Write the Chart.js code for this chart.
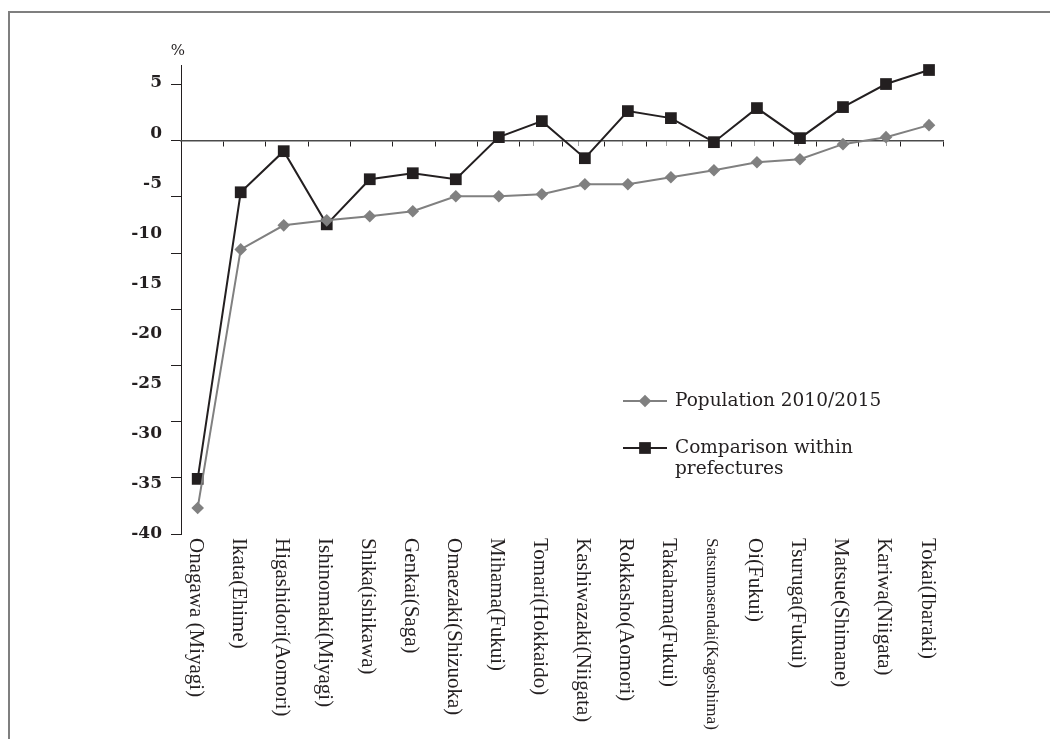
<!DOCTYPE html>
<html>
<head>
<meta charset="utf-8">
<script src="https://cdn.jsdelivr.net/npm/chart.js@4.4.1/dist/chart.umd.min.js"></script>
<style>
  html, body { margin: 0; padding: 0; background: #ffffff; }
  #wrap { position: relative; width: 1050px; height: 739px; overflow: hidden; }
  #wrap canvas { position: absolute; left: 0; top: 0; }
  #frame { position: absolute; left: 8px; top: 11px; right: 0; bottom: 0;
           border-top: 2px solid #7f7f7f; border-left: 2px solid #7f7f7f; pointer-events: none; }
</style>
</head>
<body>
<div id="wrap">
  <canvas id="chart" width="1050" height="739"></canvas>
  <div id="frame"></div>
</div>
<script>
// Municipalities hosting nuclear plants, ordered by population change
const categories = [
  'Onagawa (Miyagi)', 'Ikata(Ehime)', 'Higashidori(Aomori)', 'Ishinomaki(Miyagi)',
  'Shika(ishikawa)', 'Genkai(Saga)', 'Omaezaki(Shizuoka)', 'Mihama(Fukui)',
  'Tomari(Hokkaido)', 'Kashiwazaki(Niigata)', 'Rokkasho(Aomori)', 'Takahama(Fukui)',
  'Satsumasendai(Kagoshima)', 'Oi(Fukui)', 'Tsuruga(Fukui)', 'Matsue(Shimane)',
  'Kariwa(Niigata)', 'Tokai(Ibaraki)'
];

// Population change 2010/2015, %
const population = [
  -37.4, -11.6, -9.2, -8.7, -8.3, -7.8, -6.3, -6.3, -6.1,
  -5.1, -5.1, -4.4, -3.7, -2.9, -2.6, -1.1, -0.4, 0.8
];

// Change relative to the prefecture as a whole, %
const comparison = [
  -34.5, -5.9, -1.8, -9.1, -4.6, -4.0, -4.6, -0.4, 1.2,
  -2.5, 2.2, 1.5, -0.9, 2.5, -0.5, 2.6, 4.9, 6.3
];

const seriesNames = ['Population 2010/2015', 'Comparison within prefectures'];
const legendLines = [['Population 2010/2015'], ['Comparison within', 'prefectures']];

// Value axis labels
const yTickLabels = [5, 0, -5, -10, -15, -20, -25, -30, -35, -40];
// Tick marks along the vertical axis line
const yTickMarks = [5, 0, -5, -10, -15, -20, -25, -30, -35];
// Tick marks along the horizontal axis line
const xTickMarks = [0, 1, 2, 3, 4, 5, 6, 7, 8, 9, 10, 11, 12, 13, 14, 15, 16, 17, 18];
const xTickMarksLight = [8, 9, 10, 11, 12, 13, 14, 15, 16];

const INK = '#231f20';
const GREY = '#808080';

// Vertical category names, reading top to bottom under the axis
const categoryLabels = {
  id: 'categoryLabels',
  afterDraw(chart, args, o) {
    const ctx = chart.ctx;
    const xs = chart.scales.x;
    ctx.save();
    ctx.fillStyle = INK;
    categories.forEach((name, i) => {
      let size = o.size;
      ctx.font = size + 'px ' + o.family;
      const w = ctx.measureText(name).width;
      if (w > o.maxLength) {
        size = size * o.maxLength / w;
        ctx.font = size + 'px ' + o.family;
      }
      ctx.save();
      ctx.translate(xs.getPixelForValue(i) + o.shift, o.top);
      ctx.rotate(Math.PI / 2);
      ctx.textAlign = 'left';
      ctx.textBaseline = 'middle';
      ctx.fillText(name, 0, 0);
      ctx.restore();
    });
    ctx.restore();
  }
};

// "%" unit above the value axis
const unitLabel = {
  id: 'unitLabel',
  afterDraw(chart, args, o) {
    const ctx = chart.ctx;
    ctx.save();
    ctx.fillStyle = INK;
    ctx.font = o.font;
    ctx.textAlign = 'center';
    ctx.textBaseline = 'middle';
    ctx.fillText(o.text, chart.chartArea.left + o.dx, o.y);
    ctx.restore();
  }
};

// Legend placed inside the plot
const insetLegend = {
  id: 'insetLegend',
  afterDraw(chart, args, o) {
    const ctx = chart.ctx;
    chart.data.datasets.forEach((ds, i) => {
      const y = o.top + i * o.rowGap;
      ctx.save();
      ctx.strokeStyle = ds.borderColor;
      ctx.lineWidth = ds.borderWidth;
      ctx.beginPath();
      ctx.moveTo(o.left, y);
      ctx.lineTo(o.left + o.lineLength, y);
      ctx.stroke();
      ctx.fillStyle = ds.pointBackgroundColor;
      Chart.helpers.drawPoint(ctx, {
        pointStyle: ds.pointStyle, radius: ds.pointRadius, rotation: 0, borderWidth: 0
      }, o.left + o.lineLength / 2, y);
      ctx.fillStyle = INK;
      ctx.font = o.font;
      ctx.textAlign = 'left';
      ctx.textBaseline = 'middle';
      legendLines[i].forEach((line, k) => {
        ctx.fillText(line, o.left + o.lineLength + o.textGap, y + k * o.lineHeight);
      });
      ctx.restore();
    });
  }
};

const toPoints = arr => arr.map((v, i) => ({ x: i, y: v }));
const setTicks = values => scale => { scale.ticks = values.map(v => ({ value: v })); };

new Chart(document.getElementById('chart'), {
  type: 'line',
  data: {
    datasets: [
      {
        label: seriesNames[0],
        data: toPoints(population),
        borderColor: GREY,
        backgroundColor: GREY,
        pointBackgroundColor: GREY,
        borderWidth: 2,
        pointStyle: 'rectRot',
        pointRadius: 6.3,
        pointHoverRadius: 6.3,
        pointBorderWidth: 0,
        tension: 0,
        clip: false,
        xAxisID: 'x',
        yAxisID: 'y'
      },
      {
        label: seriesNames[1],
        data: toPoints(comparison),
        borderColor: INK,
        backgroundColor: INK,
        pointBackgroundColor: INK,
        borderWidth: 2,
        pointStyle: 'rect',
        pointRadius: 8.3,
        pointHoverRadius: 8.3,
        pointBorderWidth: 0,
        tension: 0,
        clip: false,
        xAxisID: 'x',
        yAxisID: 'y'
      }
    ]
  },
  options: {
    responsive: false,
    animation: false,
    devicePixelRatio: 1,
    events: [],
    layout: { padding: { left: 0, top: 65, right: 107, bottom: 205 } },
    plugins: {
      legend: { display: false },
      tooltip: { enabled: false },
      categoryLabels: { family: '"Liberation Serif"', size: 21, maxLength: 192, top: 538, shift: -2 },
      unitLabel: { text: '%', font: '15px "DejaVu Serif"', dx: -3, y: 51 },
      insetLegend: {
        left: 623, top: 401, rowGap: 47, lineLength: 44, textGap: 8, lineHeight: 21,
        font: '18.5px "DejaVu Serif"'
      }
    },
    scales: {
      x: { type: 'linear', min: -0.388, max: 17.325, display: false },
      y: {
        type: 'linear', position: 'left', min: -40, max: 6.8,
        afterBuildTicks: setTicks(yTickLabels),
        afterFit: scale => { scale.width = 181; },
        grid: { display: false, drawTicks: false },
        border: { display: false },
        ticks: {
          padding: 19, color: INK,
          font: { family: '"DejaVu Serif"', weight: 'bold', size: 17 },
          callback: v => String(v)
        }
      },
      y2: {
        type: 'linear', position: { x2: 0 }, min: -35, max: 6.73,
        afterBuildTicks: setTicks(yTickMarks),
        grid: { drawOnChartArea: false, drawTicks: true, tickLength: 10, color: INK, lineWidth: 1 },
        border: { display: true, color: INK, width: 1 },
        ticks: { display: false }
      },
      x2: {
        type: 'linear', position: { y2: 0 }, min: 0, max: 18,
        afterBuildTicks: setTicks(xTickMarks),
        grid: { drawOnChartArea: false, drawTicks: true, tickLength: 5, color: INK, lineWidth: 1 },
        border: { display: true, color: '#4a4a4a', width: 1.5 },
        ticks: { display: false }
      },
      x3: {
        type: 'linear', position: { y2: 0 }, min: 0, max: 17.27, z: 1,
        afterBuildTicks: setTicks(xTickMarksLight),
        grid: { drawOnChartArea: false, drawTicks: true, tickLength: 5, color: '#a0a0a0', lineWidth: 1 },
        border: { display: false },
        ticks: { display: false }
      }
    }
  },
  plugins: [categoryLabels, unitLabel, insetLegend]
});
</script>
</body>
</html>
